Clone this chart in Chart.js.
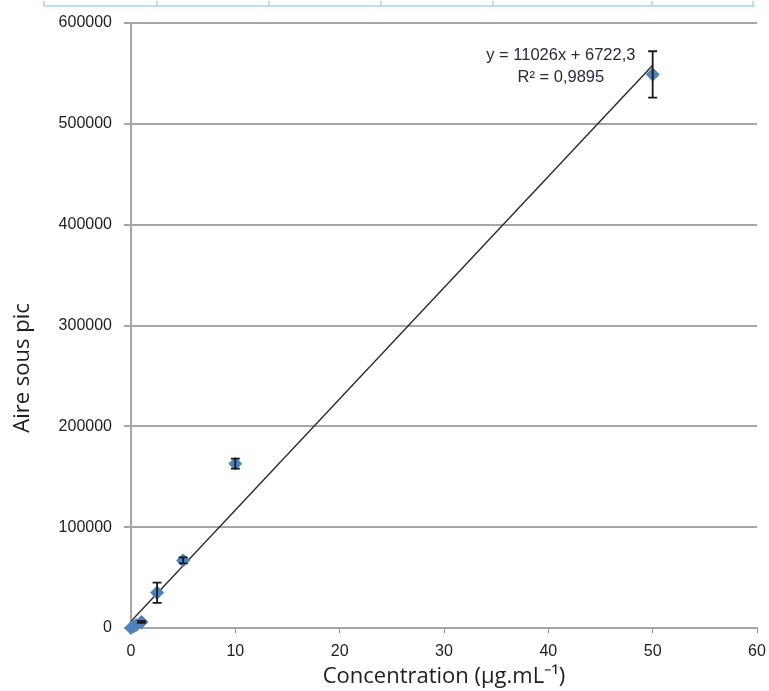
<!DOCTYPE html>
<html><head><meta charset="utf-8">
<script src="https://cdn.jsdelivr.net/npm/chart.js@4"></script>
<style>html,body{margin:0;padding:0;background:#fff;}#wrap{width:769px;height:691px;position:relative;}</style>
</head><body><div id="wrap"><canvas id="c" width="769" height="691"></canvas></div>
<script>
const concentrations = [0, 0.25, 0.5, 1, 2.5, 5, 10, 50];
const areas = [0, 1500, 3000, 6000, 35000, 67000, 163000, 549000];
const errors = [0, 0, 0, 1000, 10000, 3000, 5000, 23000];
const trendSlope = 11026;
const trendIntercept = 6722.3;
const trendRange = [0, 50];
const equationLines = ["y = 11026x + 6722,3", "R\u00B2 = 0,9895"];
const yTicks = [0, 100000, 200000, 300000, 400000, 500000, 600000];
const xTicks = [0, 10, 20, 30, 40, 50, 60];
const xTitle = 'Concentration (\u00B5g.mL\u207B\u00B9)';
const yTitle = 'Aire sous pic';

const pts = concentrations.map((x, i) => ({x: x, y: areas[i]}));
const trendPts = trendRange.map(x => ({x: x, y: trendSlope * x + trendIntercept}));

const TXT = '#1e1e1e';
const extrasPlugin = {
  id: 'extras',
  beforeDraw(chart) {
    const ctx = chart.ctx;
    ctx.save();
    ctx.strokeStyle = '#a8d8ea';
    ctx.lineWidth = 1.5;
    ctx.beginPath();
    ctx.moveTo(44, 6); ctx.lineTo(755, 6);
    [44, 157, 269, 381, 493, 652, 753].forEach(x => { ctx.moveTo(x, 1); ctx.lineTo(x, 6); });
    ctx.stroke();
    ctx.restore();
  },
  afterDatasetsDraw(chart) {
    const ctx = chart.ctx, xs = chart.scales.x, ys = chart.scales.y, a = chart.chartArea;
    ctx.save();
    ctx.strokeStyle = '#1a1a1a';
    ctx.lineWidth = 1.8;
    concentrations.forEach((x, i) => {
      if (!errors[i]) return;
      const px = xs.getPixelForValue(x);
      const top = ys.getPixelForValue(areas[i] + errors[i]);
      const bot = ys.getPixelForValue(areas[i] - errors[i]);
      ctx.beginPath();
      ctx.moveTo(px, top); ctx.lineTo(px, bot);
      ctx.moveTo(px - 4.5, top); ctx.lineTo(px + 4.5, top);
      ctx.moveTo(px - 4.5, bot); ctx.lineTo(px + 4.5, bot);
      ctx.stroke();
    });
    // equation label
    ctx.fillStyle = '#2a2a3a';
    ctx.font = '16.5px "Liberation Sans", Arial, sans-serif';
    ctx.textAlign = 'center';
    ctx.textBaseline = 'middle';
    const lx = xs.getPixelForValue(41.2);
    ctx.fillText(equationLines[0], lx, ys.getPixelForValue(568000));
    ctx.fillText(equationLines[1], lx, ys.getPixelForValue(546000));
    // axis titles
    ctx.fillStyle = TXT;
    ctx.font = '22px "Open Sans", "Liberation Sans", sans-serif';
    ctx.fillText(xTitle, (a.left + a.right) / 2, 677);
    ctx.translate(23, 368);
    ctx.rotate(-Math.PI / 2);
    ctx.fillText(yTitle, 0, 0);
    ctx.restore();
  }
};

new Chart(document.getElementById('c'), {
  type: 'scatter',
  data: {
    datasets: [
      {
        label: 'Trend',
        type: 'line',
        data: trendPts,
        borderColor: '#2a2a2a',
        borderWidth: 1.4,
        pointRadius: 0,
        fill: false,
        order: 2
      },
      {
        label: 'Aire',
        data: pts,
        backgroundColor: '#4f81bd',
        borderColor: '#4f81bd',
        pointStyle: 'rectRot',
        pointRadius: 6.5,
        borderWidth: 1,
        clip: false,
        order: 1
      }
    ]
  },
  options: {
    responsive: false,
    animation: false,
    devicePixelRatio: 1,
    layout: { padding: { top: 23, right: 12, left: 0, bottom: 0 } },
    plugins: { legend: { display: false }, tooltip: { enabled: false } },
    scales: {
      x: {
        type: 'linear', min: 0, max: 60,
        afterBuildTicks(s) { s.ticks = xTicks.map(v => ({value: v})); },
        afterFit(s) { s.height = 63; s.paddingLeft = 0; s.paddingRight = 0; },
        grid: { drawOnChartArea: false, drawTicks: true, tickLength: 5, color: '#8c8c8c', lineWidth: 1 },
        border: { color: '#a6a6a6', width: 2 },
        ticks: { color: TXT, font: { family: '"Liberation Sans", Arial', size: 16 }, padding: 9 },
        title: { display: false }
      },
      y: {
        type: 'linear', min: 0, max: 600000,
        afterBuildTicks(s) { s.ticks = yTicks.map(v => ({value: v})); },
        afterFit(s) { s.width = 131; s.paddingTop = 0; s.paddingBottom = 0; },
        grid: { color: '#a6a6a6', lineWidth: 2, tickLength: 7, drawTicks: true },
        border: { color: '#a6a6a6', width: 2 },
        ticks: { color: TXT, font: { family: '"Liberation Sans", Arial', size: 16 }, padding: 12, callback: v => String(v) },
        title: { display: false }
      }
    }
  },
  plugins: [extrasPlugin]
});
</script></body></html>
